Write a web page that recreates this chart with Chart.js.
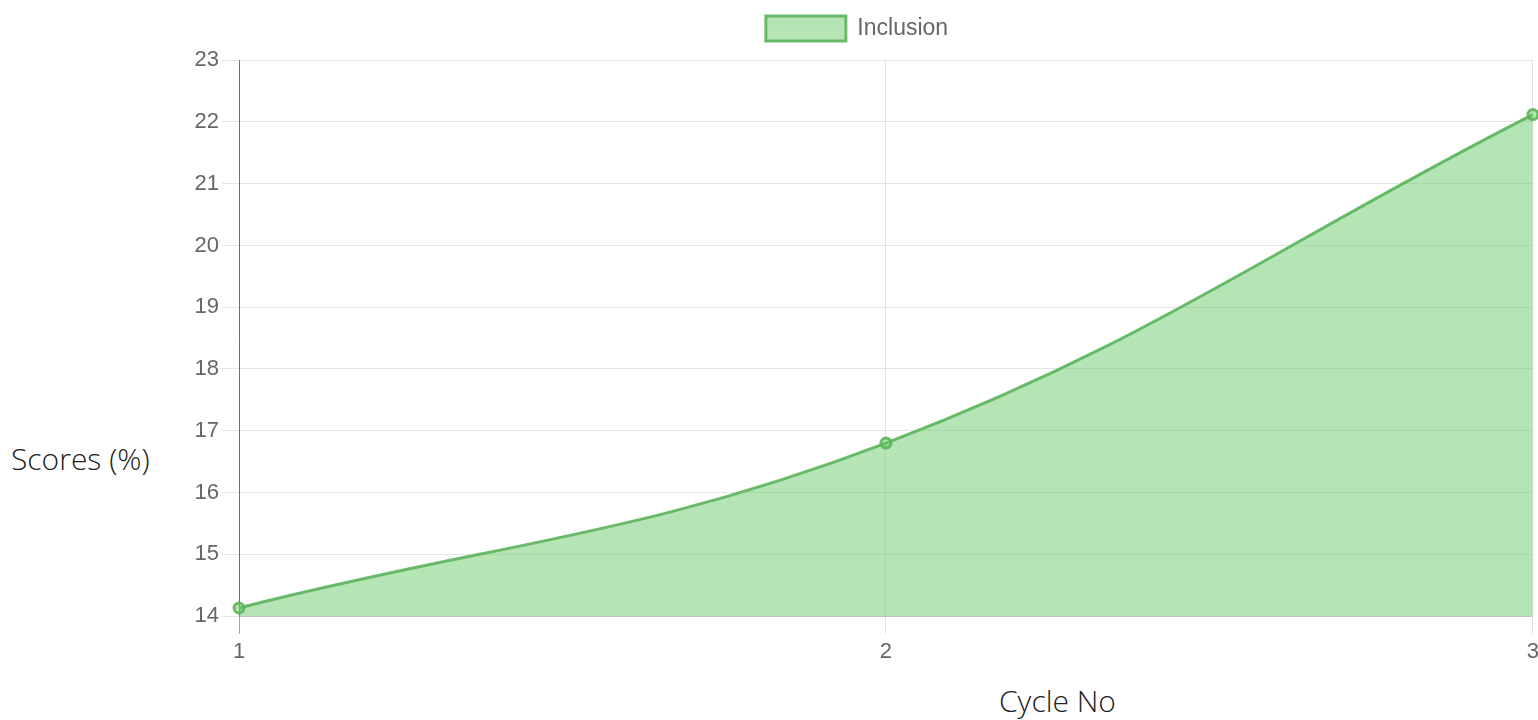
<!DOCTYPE html>
<html>
<head>
<meta charset="utf-8">
<script src="https://cdn.jsdelivr.net/npm/chart.js@4.4.0/dist/chart.umd.min.js"></script>
<style>
    body { margin: 0; background: #fff; width: 1538px; height: 720px; overflow: hidden; position: relative; }
    #wrap { position: absolute; left: 170px; top: -10px; width: 1374px; height: 680px; }
    .axis-title { position: absolute; font-family: 'Open Sans', sans-serif; font-weight: 300; font-size: 30px; color: #222; white-space: nowrap; }
</style>
</head>
<body>
<div id="wrap"><canvas id="chart"></canvas></div>
<div class="axis-title" style="left: 11px; top: 438px;">Scores (%)</div>
<div class="axis-title" style="left: 999px; top: 680px;">Cycle No</div>
<script>
    const cycles = ['1', '2', '3'];
    const inclusionScores = [14.13, 16.8, 22.12];

    const tickFont = { family: "'Liberation Sans', Arial, sans-serif", size: 22 };
    const ctx = document.getElementById('chart').getContext('2d');

    new Chart(ctx, {
        type: 'line',
        data: {
            labels: cycles,
            datasets: [
                {
                    label: 'Inclusion',
                    data: inclusionScores,
                    borderColor: 'rgba(92, 180, 92, 0.9)',
                    backgroundColor: 'rgba(100, 200, 100, 0.48)',
                    borderWidth: 3,
                    fill: true,
                    tension: 0.4,
                    pointRadius: 5,
                    pointBorderWidth: 3,
                    pointBackgroundColor: 'rgba(100, 200, 100, 0.48)',
                    pointBorderColor: 'rgba(92, 180, 92, 0.9)',
                },
            ],
        },
        options: {
            responsive: true,
            maintainAspectRatio: false,
            animation: false,
            layout: { padding: { top: 0, right: 0 } },
            plugins: {
                legend: {
                    position: 'top',
                    labels: {
                        boxWidth: 80,
                        boxHeight: 25,
                        color: '#666',
                        font: { family: "'Liberation Sans', Arial, sans-serif", size: 23 },
                        padding: 26,
                    },
                },
                // empty spacer between legend and plot
                title: {
                    display: true,
                    text: '',
                    weight: 500,
                    font: { size: 1 },
                    padding: { top: 0, bottom: 8 },
                },
                tooltip: { enabled: false },
            },
            scales: {
                x: {
                    afterFit: (scale) => { scale.height = 54; },
                    ticks: {
                        color: '#666',
                        font: tickFont,
                        maxRotation: 0,
                        padding: 5,
                    },
                    grid: {
                        color: (c) => (c.index === 0 ? 'rgba(0, 0, 0, 0.35)' : 'rgba(0, 0, 0, 0.1)'),
                        tickLength: 18,
                    },
                    border: { color: 'rgba(0, 0, 0, 0.15)' },
                },
                y: {
                    min: 14,
                    max: 23,
                    afterFit: (scale) => { scale.width = 69; },
                    ticks: {
                        stepSize: 1,
                        color: '#666',
                        font: tickFont,
                        padding: 3,
                    },
                    grid: {
                        color: 'rgba(0, 0, 0, 0.1)',
                        tickLength: 17,
                    },
                    border: { color: 'rgba(0, 0, 0, 0.35)' },
                },
            },
        },
    });
</script>
</body>
</html>
